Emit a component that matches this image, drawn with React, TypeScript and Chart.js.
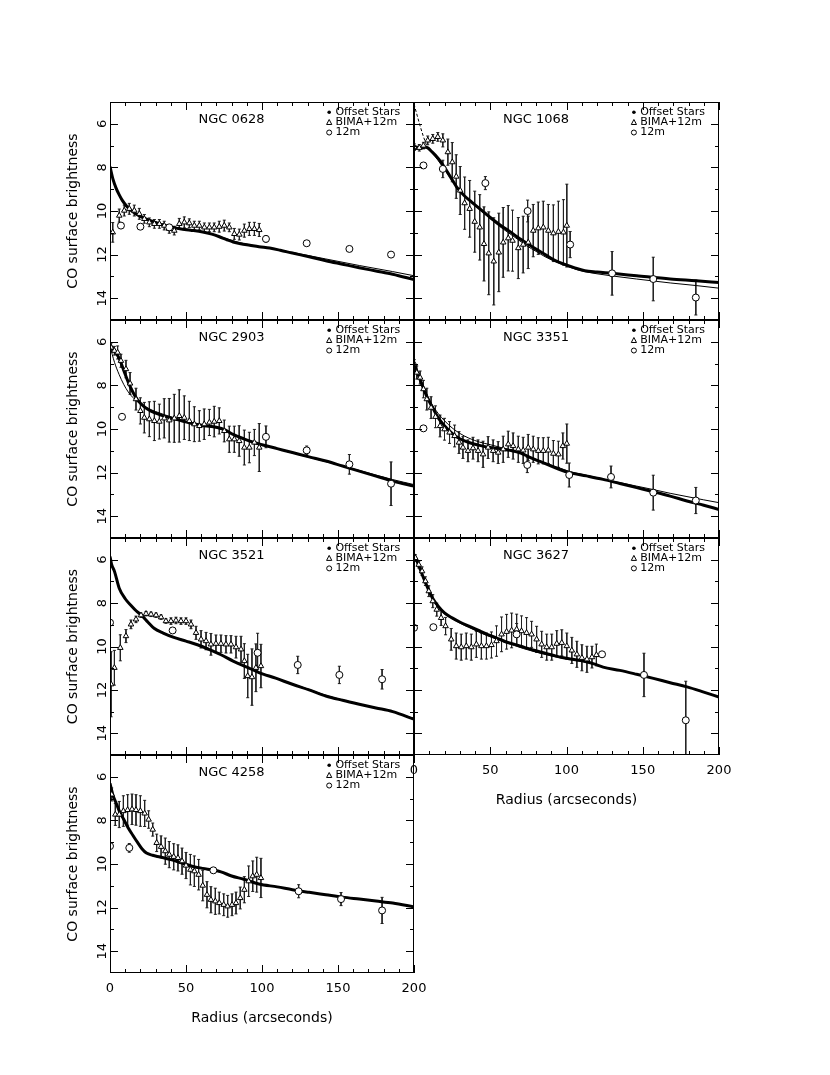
import { useEffect, useRef } from 'react';
import { Chart, registerables } from 'chart.js';
import type { ChartConfiguration, Plugin } from 'chart.js';

Chart.register(...registerables);
Chart.defaults.font.family = "'DejaVu Sans', sans-serif";
Chart.defaults.color = '#000';

// axis ticks
const xMajorTicks = [0, 50, 100, 150, 200];
const xMinorTicks = [10, 20, 30, 40, 60, 70, 80, 90, 110, 120, 130, 140, 160, 170, 180, 190];
const yMajorTicks = [6, 8, 10, 12, 14];
const yMinorTicks = [7, 9, 11, 13];
const legendLabels = ['Offset Stars', 'BIMA+12m', '12m'];

// NGC 0628
const n0628StarsR = [0, 2, 4, 6, 8, 11, 14, 17, 20, 24, 28, 33, 40, 46, 53, 61, 67, 72, 77, 81, 86, 92, 98, 105, 112, 120, 131, 142, 153, 164, 175, 186, 200];
const n0628StarsY = [7.96, 8.55, 8.95, 9.25, 9.5, 9.78, 9.98, 10.13, 10.25, 10.37, 10.48, 10.6, 10.73, 10.82, 10.88, 10.96, 11.06, 11.18, 11.32, 11.42, 11.5, 11.57, 11.64, 11.7, 11.8, 11.93, 12.1, 12.28, 12.44, 12.6, 12.75, 12.9, 13.15];
const n0628ModelR = [0, 3, 6, 10, 15, 20, 28, 40, 55, 70, 85, 100, 120, 142, 164, 186, 200];
const n0628ModelY = [8.0, 8.8, 9.3, 9.75, 10.05, 10.25, 10.45, 10.7, 10.88, 11.12, 11.45, 11.65, 11.9, 12.2, 12.5, 12.78, 12.97];
const n0628BimaR = [1.8, 6.1, 9.4, 12.7, 16, 19.3, 22.6, 25.9, 29.2, 32.5, 35.7, 39, 42.3, 45.6, 48.9, 52.2, 55.5, 58.8, 62.1, 65.4, 68.6, 71.9, 75.2, 78.5, 81.8, 85.1, 88.4, 91.7, 95, 98.2];
const n0628BimaY = [10.98, 10.21, 9.98, 9.9, 9.98, 10.13, 10.36, 10.52, 10.59, 10.59, 10.67, 10.82, 10.9, 10.59, 10.52, 10.56, 10.67, 10.67, 10.75, 10.75, 10.75, 10.72, 10.67, 10.75, 11.05, 11.08, 10.9, 10.82, 10.82, 10.87];
const n0628BimaErr = [0.45, 0.3, 0.25, 0.25, 0.25, 0.25, 0.2, 0.2, 0.2, 0.2, 0.2, 0.2, 0.2, 0.25, 0.25, 0.2, 0.2, 0.2, 0.2, 0.2, 0.2, 0.25, 0.25, 0.2, 0.25, 0.25, 0.3, 0.3, 0.3, 0.3];
const n0628SdR = [7.2, 20, 39, 102.6, 129.4, 157.5, 184.9];
const n0628SdY = [10.67, 10.72, 10.75, 11.28, 11.48, 11.74, 12.0];
const n0628SdErr = [0.1, 0.05, 0.05, 0.15, 0.1, 0.1, 0.1];

// NGC 1068
const n1068StarsR = [0, 4, 8, 12, 16, 20, 24, 28, 33, 38, 44, 50, 56, 62, 68, 74, 80, 86, 92, 98, 105, 112, 120, 130, 146, 168, 185, 200];
const n1068StarsY = [7.15, 7.1, 7.07, 7.3, 7.6, 8.0, 8.45, 8.9, 9.3, 9.6, 9.95, 10.3, 10.62, 10.9, 11.2, 11.48, 11.75, 12.0, 12.25, 12.43, 12.6, 12.74, 12.8, 12.86, 12.97, 13.12, 13.2, 13.28];
const n1068ModelR = [0, 4, 8, 12, 16, 20, 24, 28, 33, 38, 44, 50, 56, 62, 68, 74, 80, 86, 92, 98, 105, 112, 120, 130, 146, 168, 185, 200];
const n1068ModelY = [7.0, 7.05, 7.1, 7.35, 7.7, 8.1, 8.5, 8.9, 9.3, 9.62, 10.0, 10.35, 10.7, 11.0, 11.3, 11.6, 11.85, 12.1, 12.3, 12.48, 12.65, 12.78, 12.88, 12.98, 13.12, 13.3, 13.42, 13.54];
const n1068DashR = [0, 2, 4, 6, 8, 10];
const n1068DashY = [5.1, 5.6, 6.1, 6.55, 6.95, 7.1];
const n1068BimaR = [0.2, 3.5, 6.2, 9, 12.3, 15.6, 18.9, 22.2, 25.1, 27.7, 30.3, 33.2, 36.5, 39.8, 43.1, 45.9, 49, 52.3, 55.6, 58.5, 61.8, 64.6, 68.4, 71.6, 74.9, 78.2, 81.5, 84.8, 88.1, 91.4, 94.7, 98, 100.2];
const n1068BimaY = [7.07, 7.1, 7.0, 6.76, 6.69, 6.6, 6.76, 7.3, 7.76, 8.42, 9.06, 9.64, 9.9, 10.49, 10.75, 11.51, 11.94, 12.31, 11.9, 11.44, 11.25, 11.36, 11.7, 11.54, 11.44, 10.9, 10.79, 10.75, 10.9, 11.02, 10.95, 10.98, 10.67];
const n1068BimaErr = [0.15, 0.15, 0.15, 0.2, 0.2, 0.2, 0.3, 0.6, 0.9, 1.0, 1.1, 1.2, 1.3, 1.4, 1.5, 1.7, 1.9, 2.0, 1.8, 1.6, 1.5, 1.4, 1.4, 1.3, 1.2, 1.2, 1.2, 1.2, 1.2, 1.3, 1.4, 1.5, 1.9];
const n1068SdR = [6.2, 18.9, 46.8, 74.5, 102.4, 129.9, 156.9, 184.8];
const n1068SdY = [7.91, 8.07, 8.72, 10.0, 11.54, 12.86, 13.12, 13.97];
const n1068SdErr = [0.05, 0.4, 0.3, 0.5, 0.6, 1.0, 1.0, 0.8];

// NGC 2903
const n2903StarsR = [0, 3, 6, 9, 12, 15, 18, 22, 27, 33, 40, 47, 54, 62, 70, 76, 81, 88, 95, 100, 110, 120, 131, 142, 153, 164, 175, 186, 200];
const n2903StarsY = [6.15, 6.4, 6.75, 7.3, 7.85, 8.3, 8.65, 8.95, 9.18, 9.35, 9.5, 9.62, 9.75, 9.85, 9.92, 10.05, 10.25, 10.45, 10.62, 10.72, 10.9, 11.08, 11.28, 11.47, 11.7, 11.93, 12.16, 12.39, 12.62];
const n2903ModelR = [0, 3, 6, 9, 12, 16, 20, 25, 30, 36, 44, 54, 62, 70, 80, 90, 100, 120, 142, 164, 186, 200];
const n2903ModelY = [6.2, 6.95, 7.5, 7.95, 8.3, 8.62, 8.85, 9.05, 9.2, 9.35, 9.52, 9.72, 9.85, 9.95, 10.2, 10.5, 10.72, 11.1, 11.5, 11.9, 12.32, 12.55];
const n2903BimaR = [0.7, 2.9, 5, 7.2, 10.5, 13.2, 17.1, 20, 22.6, 25.9, 29.2, 32.5, 35.7, 39, 42.3, 45.6, 48.9, 52.2, 55.5, 58.8, 62, 65.4, 68.6, 71.9, 75.2, 78.5, 81.8, 85, 88.4, 91.7, 95, 98.2];
const n2903BimaY = [6.26, 6.41, 6.49, 6.87, 7.25, 7.91, 8.63, 9.17, 9.48, 9.55, 9.63, 9.66, 9.51, 9.6, 9.51, 9.4, 9.48, 9.63, 9.78, 9.86, 9.78, 9.7, 9.66, 9.63, 10.09, 10.47, 10.47, 10.55, 10.85, 10.85, 10.62, 10.85];
const n2903BimaErr = [0.2, 0.2, 0.3, 0.3, 0.4, 0.5, 0.5, 0.6, 0.7, 0.8, 0.9, 0.8, 0.9, 1.0, 1.1, 1.2, 1.0, 0.9, 0.8, 0.7, 0.7, 0.6, 0.7, 0.6, 0.5, 0.6, 0.6, 0.7, 0.8, 0.7, 0.6, 1.1];
const n2903SdR = [7.9, 102.6, 129.4, 157.5, 184.9];
const n2903SdY = [9.44, 10.36, 10.98, 11.62, 12.51];
const n2903SdErr = [0.05, 0.5, 0.2, 0.45, 1.0];

// NGC 3351
const n3351StarsR = [0, 3, 6, 9, 12, 16, 20, 25, 30, 36, 43, 50, 57, 63, 70, 76, 83, 90, 96, 102, 113, 124, 135, 146, 157, 168, 179, 190, 200];
const n3351StarsY = [7.0, 7.55, 8.1, 8.6, 9.0, 9.5, 9.85, 10.2, 10.45, 10.62, 10.75, 10.85, 10.92, 10.98, 11.1, 11.3, 11.5, 11.7, 11.87, 12.0, 12.15, 12.31, 12.5, 12.69, 12.88, 13.08, 13.3, 13.5, 13.69];
const n3351ModelR = [0, 3, 6, 9, 12, 16, 20, 25, 30, 36, 43, 50, 57, 63, 70, 76, 83, 90, 96, 102, 113, 124, 135, 146, 157, 168, 179, 190, 200];
const n3351ModelY = [7.0, 7.5, 8.0, 8.5, 8.9, 9.3, 9.62, 9.95, 10.2, 10.42, 10.6, 10.72, 10.85, 10.95, 11.08, 11.28, 11.48, 11.65, 11.8, 11.95, 12.12, 12.3, 12.46, 12.62, 12.78, 12.95, 13.1, 13.25, 13.38];
const n3351BimaR = [0.2, 1.8, 4.0, 6.2, 8.4, 11.2, 14.1, 17.1, 20, 23.3, 26.6, 29.5, 32.1, 35.4, 38.7, 42, 45.3, 48.6, 51.9, 55.2, 58.5, 61.8, 65, 68.4, 71.6, 74.9, 78.2, 81.5, 84.8, 88.1, 91.4, 94.7, 97.6, 100.2];
const n3351BimaY = [7.02, 7.41, 7.64, 8.17, 8.63, 9.02, 9.44, 9.86, 10.01, 10.16, 10.32, 10.62, 10.85, 11.0, 10.88, 11.0, 11.16, 10.85, 11.0, 11.08, 10.93, 10.7, 10.78, 10.93, 10.98, 10.85, 10.93, 11.0, 11.0, 10.98, 11.13, 11.16, 10.78, 10.67];
const n3351BimaErr = [0.2, 0.3, 0.3, 0.4, 0.5, 0.5, 0.5, 0.5, 0.5, 0.5, 0.5, 0.5, 0.5, 0.5, 0.5, 0.5, 0.6, 0.5, 0.5, 0.5, 0.6, 0.6, 0.6, 0.6, 0.6, 0.6, 0.6, 0.6, 0.6, 0.6, 0.6, 0.6, 0.6, 0.9];
const n3351SdR = [6.2, 74.3, 101.8, 129.2, 156.9, 184.8];
const n3351SdY = [9.97, 11.65, 12.11, 12.2, 12.92, 13.28];
const n3351SdErr = [0.05, 0.35, 0.55, 0.5, 0.8, 0.6];

// NGC 3521
const n3521StarsR = [0, 1, 3, 6, 10, 14, 17, 21, 25, 29, 35, 42, 50, 58, 65, 73, 81, 90, 98, 109, 120, 131, 142, 153, 164, 175, 186, 200];
const n3521StarsY = [5.85, 6.2, 6.55, 7.3, 7.8, 8.12, 8.34, 8.58, 8.88, 9.16, 9.38, 9.58, 9.75, 9.93, 10.13, 10.38, 10.67, 10.95, 11.2, 11.46, 11.74, 12.0, 12.28, 12.48, 12.66, 12.83, 13.0, 13.35];
const n3521ModelR = [0, 1, 3, 6, 10, 14, 17, 21, 25, 29, 35, 42, 50, 58, 65, 73, 81, 90, 98, 109, 120, 131, 142, 153, 164, 175, 186, 200];
const n3521ModelY = [5.9, 6.25, 6.6, 7.3, 7.82, 8.15, 8.36, 8.6, 8.88, 9.14, 9.36, 9.56, 9.73, 9.92, 10.12, 10.38, 10.66, 10.94, 11.18, 11.45, 11.72, 11.98, 12.25, 12.46, 12.65, 12.82, 13.0, 13.32];
const n3521BimaR = [0.7, 2.9, 6.8, 10.5, 13.8, 17.1, 20.4, 23.7, 27, 30.3, 33.6, 36.8, 40.1, 43.4, 46.7, 50, 53.3, 56.6, 59.9, 63.2, 66.4, 69.7, 73, 76.3, 79.6, 82.9, 86.2, 88.4, 90.6, 93.4, 96, 99.3];
const n3521BimaY = [11.74, 10.98, 10.06, 9.52, 8.98, 8.75, 8.56, 8.49, 8.52, 8.56, 8.65, 8.83, 8.83, 8.8, 8.83, 8.83, 8.98, 9.37, 9.67, 9.75, 9.9, 9.87, 9.87, 9.9, 9.9, 10.03, 10.13, 10.67, 11.36, 11.41, 10.98, 10.9];
const n3521BimaErr = [1.5, 0.8, 0.6, 0.3, 0.2, 0.15, 0.1, 0.1, 0.1, 0.1, 0.1, 0.1, 0.15, 0.15, 0.15, 0.15, 0.2, 0.3, 0.4, 0.4, 0.5, 0.4, 0.4, 0.4, 0.4, 0.5, 0.6, 0.8, 1.0, 1.3, 1.1, 1.0];
const n3521SdR = [0, 41.2, 97.1, 123.5, 150.9, 179];
const n3521SdY = [8.9, 9.26, 10.29, 10.85, 11.31, 11.51];
const n3521SdErr = [0.05, 0.1, 0.9, 0.4, 0.4, 0.45];

// NGC 3627
const n3627StarsR = [0, 3, 6, 9, 12, 16, 20, 25, 30, 36, 42, 48, 54, 60, 66, 72, 78, 85, 91, 98, 105, 111, 118, 124, 135, 146, 157, 168, 179, 190, 200];
const n3627StarsY = [5.75, 6.25, 6.8, 7.3, 7.75, 8.15, 8.45, 8.68, 8.87, 9.06, 9.25, 9.44, 9.6, 9.78, 9.9, 10.03, 10.16, 10.29, 10.4, 10.52, 10.6, 10.67, 10.8, 10.95, 11.1, 11.28, 11.47, 11.67, 11.86, 12.1, 12.33];
const n3627ModelR = [0, 3, 6, 9, 12, 16, 20, 25, 30, 36, 42, 48, 54, 60, 66, 72, 78, 85, 91, 98, 105, 111, 118, 124, 135, 146, 157, 168, 179, 190, 200];
const n3627ModelY = [5.8, 6.3, 6.85, 7.35, 7.8, 8.2, 8.5, 8.72, 8.92, 9.12, 9.32, 9.5, 9.66, 9.82, 9.96, 10.1, 10.22, 10.35, 10.45, 10.55, 10.63, 10.7, 10.82, 10.95, 11.1, 11.28, 11.47, 11.67, 11.86, 12.1, 12.33];
const n3627BimaR = [0.9, 3.1, 5.3, 7.5, 9.7, 12.3, 14.9, 17.8, 20.7, 24.4, 27.7, 31, 34.3, 37.6, 40.9, 44.2, 47.5, 50.8, 54.1, 57.4, 60.7, 64, 67.3, 70.5, 73.8, 77.1, 80.4, 83.7, 87, 90.3, 93.6, 96.9, 100.2, 103.5, 106.8, 110.1, 113.4, 116.7, 119.6];
const n3627BimaY = [5.92, 6.23, 6.53, 6.99, 7.45, 7.91, 8.3, 8.68, 9.06, 9.67, 9.98, 10.03, 9.98, 10.03, 9.9, 9.98, 9.98, 9.93, 9.75, 9.44, 9.32, 9.26, 9.21, 9.29, 9.37, 9.44, 9.67, 9.9, 10.03, 10.03, 9.87, 9.83, 9.98, 10.18, 10.36, 10.52, 10.59, 10.49, 10.39];
const n3627BimaErr = [0.15, 0.15, 0.2, 0.2, 0.25, 0.3, 0.3, 0.35, 0.4, 0.5, 0.6, 0.6, 0.6, 0.6, 0.6, 0.6, 0.6, 0.6, 0.7, 0.8, 0.8, 0.8, 0.7, 0.7, 0.7, 0.6, 0.6, 0.6, 0.6, 0.6, 0.6, 0.6, 0.6, 0.6, 0.6, 0.6, 0.6, 0.5, 0.5];
const n3627SdR = [0, 12.7, 67.3, 123.3, 150.8, 178.2];
const n3627SdY = [9.14, 9.11, 9.44, 10.36, 11.31, 13.4];
const n3627SdErr = [0.05, 0.1, 0.5, 0.1, 1.0, 1.8];

// NGC 4258
const n4258StarsR = [0, 2, 4, 6, 9, 12, 15, 18, 21, 24, 28, 33, 40, 47, 54, 61, 68, 73, 80, 88, 98, 110, 120, 131, 142, 153, 164, 175, 186, 200];
const n4258StarsY = [6.3, 6.85, 7.2, 7.55, 7.95, 8.35, 8.68, 9.0, 9.3, 9.5, 9.6, 9.68, 9.8, 9.95, 10.1, 10.2, 10.28, 10.36, 10.55, 10.7, 10.92, 11.05, 11.18, 11.3, 11.41, 11.52, 11.61, 11.7, 11.79, 11.97];
const n4258ModelR = [0, 2, 4, 6, 9, 12, 15, 18, 21, 24, 28, 33, 40, 47, 54, 61, 68, 73, 80, 88, 98, 110, 120, 131, 142, 153, 164, 175, 186, 200];
const n4258ModelY = [6.4, 6.9, 7.25, 7.6, 8.0, 8.38, 8.7, 9.02, 9.3, 9.5, 9.62, 9.7, 9.82, 9.96, 10.1, 10.2, 10.3, 10.38, 10.55, 10.7, 10.9, 11.05, 11.18, 11.3, 11.41, 11.52, 11.61, 11.7, 11.79, 11.95];
const n4258BimaR = [1.1, 3.5, 6.1, 8.8, 11.6, 14.5, 17.1, 20, 22.8, 25.4, 28.1, 30.7, 33.6, 36.4, 39, 41.9, 44.7, 47.4, 50, 52.9, 55.5, 58.3, 61, 63.8, 66.4, 69.3, 71.9, 74.8, 77.4, 80.3, 82.9, 85.7, 88.4, 91.2, 93.9, 96.5, 99.3];
const n4258BimaY = [6.81, 7.73, 7.73, 7.57, 7.52, 7.49, 7.52, 7.57, 7.68, 7.96, 8.42, 9.03, 9.21, 9.41, 9.57, 9.67, 9.72, 9.87, 10.07, 10.26, 10.33, 10.49, 10.99, 11.41, 11.64, 11.71, 11.79, 11.87, 11.94, 11.87, 11.79, 11.56, 11.18, 10.79, 10.56, 10.49, 10.64];
const n4258BimaErr = [0.3, 0.5, 0.6, 0.7, 0.7, 0.7, 0.7, 0.7, 0.6, 0.4, 0.3, 0.4, 0.5, 0.6, 0.6, 0.6, 0.6, 0.6, 0.6, 0.7, 0.7, 0.7, 0.7, 0.6, 0.6, 0.6, 0.5, 0.5, 0.5, 0.5, 0.5, 0.5, 0.6, 0.7, 0.7, 0.8, 0.9];
const n4258SdR = [0, 12.7, 68, 124.1, 152, 179];
const n4258SdY = [9.18, 9.26, 10.29, 11.25, 11.61, 12.13];
const n4258SdErr = [0.05, 0.2, 0.1, 0.3, 0.3, 0.6];

const noValues: number[] = [];

interface PanelSpec {
  name: string;
  col: number;
  row: number;
  starsR: number[];
  starsY: number[];
  modelR: number[];
  modelY: number[];
  dashR: number[];
  dashY: number[];
  bimaR: number[];
  bimaY: number[];
  bimaErr: number[];
  sdR: number[];
  sdY: number[];
  sdErr: number[];
  yLabels: boolean;
  xLabels: boolean;
}

const panels: PanelSpec[] = [
  { name: 'NGC 0628', col: 0, row: 0, starsR: n0628StarsR, starsY: n0628StarsY, modelR: n0628ModelR, modelY: n0628ModelY, dashR: noValues, dashY: noValues, bimaR: n0628BimaR, bimaY: n0628BimaY, bimaErr: n0628BimaErr, sdR: n0628SdR, sdY: n0628SdY, sdErr: n0628SdErr, yLabels: true, xLabels: false },
  { name: 'NGC 1068', col: 1, row: 0, starsR: n1068StarsR, starsY: n1068StarsY, modelR: n1068ModelR, modelY: n1068ModelY, dashR: n1068DashR, dashY: n1068DashY, bimaR: n1068BimaR, bimaY: n1068BimaY, bimaErr: n1068BimaErr, sdR: n1068SdR, sdY: n1068SdY, sdErr: n1068SdErr, yLabels: false, xLabels: false },
  { name: 'NGC 2903', col: 0, row: 1, starsR: n2903StarsR, starsY: n2903StarsY, modelR: n2903ModelR, modelY: n2903ModelY, dashR: noValues, dashY: noValues, bimaR: n2903BimaR, bimaY: n2903BimaY, bimaErr: n2903BimaErr, sdR: n2903SdR, sdY: n2903SdY, sdErr: n2903SdErr, yLabels: true, xLabels: false },
  { name: 'NGC 3351', col: 1, row: 1, starsR: n3351StarsR, starsY: n3351StarsY, modelR: n3351ModelR, modelY: n3351ModelY, dashR: noValues, dashY: noValues, bimaR: n3351BimaR, bimaY: n3351BimaY, bimaErr: n3351BimaErr, sdR: n3351SdR, sdY: n3351SdY, sdErr: n3351SdErr, yLabels: false, xLabels: false },
  { name: 'NGC 3521', col: 0, row: 2, starsR: n3521StarsR, starsY: n3521StarsY, modelR: n3521ModelR, modelY: n3521ModelY, dashR: noValues, dashY: noValues, bimaR: n3521BimaR, bimaY: n3521BimaY, bimaErr: n3521BimaErr, sdR: n3521SdR, sdY: n3521SdY, sdErr: n3521SdErr, yLabels: true, xLabels: false },
  { name: 'NGC 3627', col: 1, row: 2, starsR: n3627StarsR, starsY: n3627StarsY, modelR: n3627ModelR, modelY: n3627ModelY, dashR: noValues, dashY: noValues, bimaR: n3627BimaR, bimaY: n3627BimaY, bimaErr: n3627BimaErr, sdR: n3627SdR, sdY: n3627SdY, sdErr: n3627SdErr, yLabels: false, xLabels: true },
  { name: 'NGC 4258', col: 0, row: 3, starsR: n4258StarsR, starsY: n4258StarsY, modelR: n4258ModelR, modelY: n4258ModelY, dashR: noValues, dashY: noValues, bimaR: n4258BimaR, bimaY: n4258BimaY, bimaErr: n4258BimaErr, sdR: n4258SdR, sdY: n4258SdY, sdErr: n4258SdErr, yLabels: true, xLabels: true },
];

// page geometry of the plot frames
const colLeft = [110, 414];
const colWidth = [304, 305];
const rowTop = [102, 320, 538, 755, 973];
const yAxisWidth = 50;
const xAxisHeight = 60;
const capHalf = 1;

type Pt = { x: number; y: number | null };

function toPoints(r: number[], y: number[]): Pt[] {
  return r.map((x, i) => ({ x, y: y[i] }));
}

function errorBars(r: number[], y: number[], err: number[]): Pt[] {
  const pts: Pt[] = [];
  r.forEach((x, i) => {
    const lo = y[i] - err[i];
    const hi = y[i] + err[i];
    pts.push({ x, y: lo }, { x, y: hi }, { x, y: null });
    pts.push({ x: x - capHalf, y: lo }, { x: x + capHalf, y: lo }, { x, y: null });
    pts.push({ x: x - capHalf, y: hi }, { x: x + capHalf, y: hi }, { x, y: null });
  });
  return pts;
}

function Panel({ spec }: { spec: PanelSpec }) {
  const canvasRef = useRef<HTMLCanvasElement>(null);

  const showY = spec.col === 0;
  const padL = showY ? yAxisWidth : 14;
  const padR = spec.xLabels ? 32 : 6;
  const padT = 6;
  const plotH = rowTop[spec.row + 1] - rowTop[spec.row];
  const width = padL + colWidth[spec.col] + padR;
  const height = padT + plotH + (spec.xLabels ? xAxisHeight : 0) + 6;
  const left = colLeft[spec.col] - padL;
  const top = rowTop[spec.row] - padT;

  useEffect(() => {
    if (!canvasRef.current) return;

    const framePlugin: Plugin<'line'> = {
      id: 'panelFrame',
      afterDatasetsDraw(chart) {
        const { ctx, chartArea: a, scales } = chart;
        const xs = scales.x;
        const ys = scales.y;
        ctx.save();
        ctx.strokeStyle = '#000';
        ctx.lineWidth = 1;
        ctx.strokeRect(a.left + 0.5, a.top + 0.5, a.width - 1, a.height - 1);
        ctx.beginPath();
        const xTick = (v: number, len: number) => {
          const px = Math.round(xs.getPixelForValue(v)) + 0.5;
          ctx.moveTo(px, a.bottom);
          ctx.lineTo(px, a.bottom - len);
          ctx.moveTo(px, a.top);
          ctx.lineTo(px, a.top + len);
        };
        const yTick = (v: number, len: number) => {
          const py = Math.round(ys.getPixelForValue(v)) + 0.5;
          ctx.moveTo(a.left, py);
          ctx.lineTo(a.left + len, py);
          ctx.moveTo(a.right, py);
          ctx.lineTo(a.right - len, py);
        };
        xMajorTicks.forEach((v) => xTick(v, 8));
        xMinorTicks.forEach((v) => xTick(v, 4));
        yMajorTicks.forEach((v) => yTick(v, 8));
        yMinorTicks.forEach((v) => yTick(v, 4));
        ctx.stroke();

        ctx.fillStyle = '#000';
        if (spec.yLabels) {
          ctx.font = "13px 'DejaVu Sans'";
          ctx.textAlign = 'center';
          ctx.textBaseline = 'middle';
          yMajorTicks.forEach((v) => {
            ctx.save();
            ctx.translate(a.left - 7, ys.getPixelForValue(v));
            ctx.rotate(-Math.PI / 2);
            ctx.fillText(String(v), 0, 0);
            ctx.restore();
          });
        }

        // panel title
        ctx.font = "13px 'DejaVu Sans'";
        ctx.textAlign = 'center';
        ctx.textBaseline = 'middle';
        ctx.fillText(spec.name, xs.getPixelForValue(80), ys.getPixelForValue(5.8));

        // legend
        ctx.font = "11px 'DejaVu Sans'";
        ctx.textAlign = 'left';
        const lx = xs.getPixelForValue(148.3);
        const mx = xs.getPixelForValue(144.2);
        const rows = [5.47, 5.94, 6.4].map((v) => ys.getPixelForValue(v));
        legendLabels.forEach((label, i) => {
          ctx.fillText(label, lx, rows[i]);
        });
        ctx.beginPath();
        ctx.arc(mx, rows[0], 1.8, 0, Math.PI * 2);
        ctx.fill();
        ctx.beginPath();
        ctx.moveTo(mx, rows[1] - 3);
        ctx.lineTo(mx + 2.6, rows[1] + 2);
        ctx.lineTo(mx - 2.6, rows[1] + 2);
        ctx.closePath();
        ctx.stroke();
        ctx.beginPath();
        ctx.arc(mx, rows[2], 2.5, 0, Math.PI * 2);
        ctx.stroke();
        ctx.restore();
      },
    };

    const config: ChartConfiguration<'line', Pt[]> = {
      type: 'line',
      data: {
        datasets: [
          {
            label: '12m',
            data: toPoints(spec.sdR, spec.sdY),
            showLine: false,
            pointStyle: 'circle',
            pointRadius: 3.5,
            pointBorderWidth: 1,
            pointBorderColor: '#000',
            pointBackgroundColor: '#fff',
          },
          {
            label: 'BIMA+12m',
            data: toPoints(spec.bimaR, spec.bimaY),
            showLine: false,
            pointStyle: 'triangle',
            pointRadius: 3.2,
            pointBorderWidth: 1,
            pointBorderColor: '#000',
            pointBackgroundColor: '#fff',
          },
          {
            label: 'Offset Stars',
            data: toPoints(spec.starsR, spec.starsY),
            borderColor: '#000',
            borderWidth: 3,
            pointRadius: 0,
            cubicInterpolationMode: 'monotone',
          },
          {
            label: 'model',
            data: toPoints(spec.modelR, spec.modelY),
            borderColor: '#000',
            borderWidth: 1,
            pointRadius: 0,
            cubicInterpolationMode: 'monotone',
          },
          {
            label: 'inner',
            data: toPoints(spec.dashR, spec.dashY),
            borderColor: '#000',
            borderWidth: 1,
            borderDash: [3, 2],
            pointRadius: 0,
          },
          {
            label: 'BIMA errors',
            data: errorBars(spec.bimaR, spec.bimaY, spec.bimaErr),
            borderColor: '#222',
            borderWidth: 1,
            pointRadius: 0,
            spanGaps: false,
          },
          {
            label: '12m errors',
            data: errorBars(spec.sdR, spec.sdY, spec.sdErr),
            borderColor: '#222',
            borderWidth: 1,
            pointRadius: 0,
            spanGaps: false,
          },
        ],
      },
      options: {
        animation: false,
        responsive: false,
        events: [],
        layout: {
          padding: {
            left: showY ? 0 : padL,
            right: padR,
            top: padT,
            bottom: 6,
          },
        },
        plugins: {
          legend: { display: false },
          tooltip: { enabled: false },
        },
        scales: {
          x: {
            type: 'linear',
            min: 0,
            max: 200,
            display: spec.xLabels,
            grid: { display: false, drawTicks: false },
            border: { display: false },
            ticks: { font: { size: 13 }, padding: 8, color: '#000', maxRotation: 0 },
            afterBuildTicks: (scale) => {
              scale.ticks = xMajorTicks.map((value) => ({ value }));
            },
            afterFit: (scale) => {
              if (spec.xLabels) scale.height = xAxisHeight;
            },
            title: {
              display: true,
              text: 'Radius (arcseconds)',
              font: { size: 14 },
              color: '#000',
              padding: { top: 0, bottom: 6 },
            },
          },
          y: {
            type: 'linear',
            min: 5,
            max: 15,
            reverse: true,
            display: showY,
            grid: { display: false, drawTicks: false },
            border: { display: false },
            ticks: { display: false },
            afterBuildTicks: (scale) => {
              scale.ticks = yMajorTicks.map((value) => ({ value }));
            },
            afterFit: (scale) => {
              if (showY) scale.width = yAxisWidth;
            },
            title: {
              display: true,
              text: 'CO surface brightness',
              font: { size: 14 },
              color: '#000',
              padding: { top: 5, bottom: 0 },
            },
          },
        },
      },
      plugins: [framePlugin],
    };

    const chart = new Chart(canvasRef.current, config);
    return () => {
      chart.destroy();
    };
  }, [spec, showY, padL, padR]);

  return (
    <canvas
      ref={canvasRef}
      width={width}
      height={height}
      style={{ position: 'absolute', left, top, width, height }}
    />
  );
}

export default function App() {
  return (
    <div style={{ position: 'absolute', left: 0, top: 0, width: 830, height: 1075, background: '#fff' }}>
      {panels.map((p) => (
        <Panel key={p.name} spec={p} />
      ))}
    </div>
  );
}
